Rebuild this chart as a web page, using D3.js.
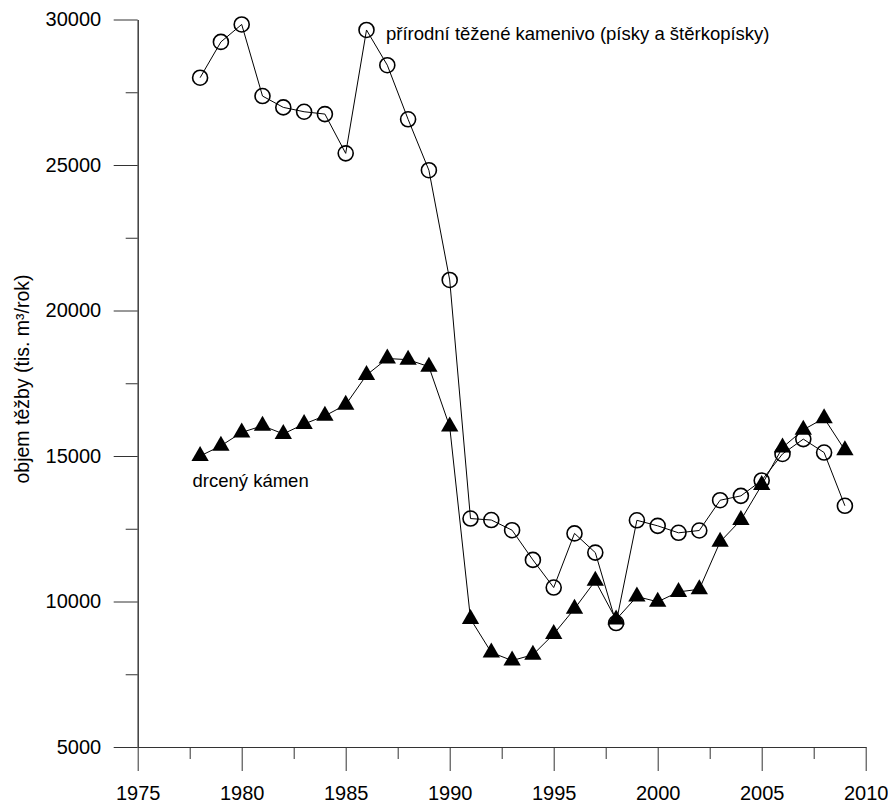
<!DOCTYPE html>
<html>
<head>
<meta charset="utf-8">
<script src="https://cdn.jsdelivr.net/npm/d3@7"></script>
<style>
  html, body { margin: 0; padding: 0; background: #fff; }
  svg { display: block; font-family: "Liberation Sans", Arial, sans-serif; }
</style>
</head>
<body>
<svg id="chart" width="888" height="805"></svg>
<script>
// Annual extraction volumes (thousand m3 per year)
const years = [1978, 1979, 1980, 1981, 1982, 1983, 1984, 1985, 1986, 1987, 1988,
               1989, 1990, 1991, 1992, 1993, 1994, 1995, 1996, 1997, 1998, 1999,
               2000, 2001, 2002, 2003, 2004, 2005, 2006, 2007, 2008, 2009];

// natural aggregate (sands and gravel sands)
const naturalAggregate = [28000, 29230, 29830, 27370, 26980, 26830, 26750, 25400,
                          29640, 28430, 26570, 24820, 21050, 12850, 12800, 12450,
                          11430, 10480, 12340, 11680, 9260, 12790, 12600, 12360,
                          12440, 13480, 13630, 14160, 15070, 15580, 15120, 13290];

// crushed stone
const crushedStone = [15000, 15350, 15810, 16040, 15760, 16100, 16380, 16760,
                      17780, 18350, 18310, 18070, 16010, 9400, 8250, 7970,
                      8170, 8880, 9750, 10710, 9380, 10170, 9990, 10330,
                      10420, 12050, 12800, 14000, 15290, 15900, 16300, 15200];

const xMajorTicks = [1975, 1980, 1985, 1990, 1995, 2000, 2005, 2010];
const xMinorTicks = [1977.5, 1982.5, 1987.5, 1992.5, 1997.5, 2002.5, 2007.5];
const yMajorTicks = [5000, 10000, 15000, 20000, 25000, 30000];
const yMinorTicks = [7500, 12500, 17500, 22500, 27500];

const yTitle = "objem těžby (tis. m³/rok)";
const naturalLabel = "přírodní těžené kamenivo (písky a štěrkopísky)";
const crushedLabel = "drcený kámen";

const svg = d3.select("#chart");

const x = d3.scaleLinear().domain([1975, 2010]).range([137.7, 865.7]);
const y = d3.scaleLinear().domain([5000, 30000]).range([747, 19.5]);

// Axes: major ticks with labels, minor ticks without
const axisColor = "#333";

function styleAxis(g) {
  g.attr("font-family", null).attr("font-size", null);
  g.selectAll("path.domain").attr("stroke", axisColor).attr("stroke-width", 1);
  g.selectAll(".tick line").attr("stroke", axisColor).attr("stroke-width", 1);
  g.selectAll(".tick text").attr("fill", "#000").attr("font-size", 20);
}

svg.append("g")
  .attr("transform", `translate(${x(1975)},0)`)
  .call(d3.axisLeft(y).tickValues(yMajorTicks).tickFormat(d3.format("d"))
        .tickSize(24).tickSizeOuter(0).tickPadding(12.5))
  .call(styleAxis);

svg.append("g")
  .attr("transform", `translate(${x(1975)},0)`)
  .call(d3.axisLeft(y).tickValues(yMinorTicks).tickFormat("")
        .tickSize(12).tickSizeOuter(0))
  .call(styleAxis);

svg.append("g")
  .attr("transform", `translate(0,${y(5000)})`)
  .call(d3.axisBottom(x).tickValues(xMajorTicks).tickFormat(d3.format("d"))
        .tickSize(24).tickSizeOuter(0).tickPadding(14.5))
  .call(styleAxis);

svg.append("g")
  .attr("transform", `translate(0,${y(5000)})`)
  .call(d3.axisBottom(x).tickValues(xMinorTicks).tickFormat("")
        .tickSize(12).tickSizeOuter(0))
  .call(styleAxis);

// Y axis title
svg.append("text")
  .attr("transform", "translate(29,379) rotate(-90)")
  .attr("text-anchor", "middle")
  .attr("font-size", 19.5)
  .attr("fill", "#000")
  .text(yTitle);

const line = d3.line()
  .x((d, i) => x(years[i]))
  .y(d => y(d));

// Natural aggregate series: thin line + open circles
svg.append("path")
  .datum(naturalAggregate)
  .attr("d", line)
  .attr("fill", "none")
  .attr("stroke", "#000")
  .attr("stroke-width", 1);

svg.append("g")
  .selectAll("circle")
  .data(naturalAggregate)
  .join("circle")
  .attr("cx", (d, i) => x(years[i]))
  .attr("cy", d => y(d))
  .attr("r", 7.5)
  .attr("fill", "none")
  .attr("stroke", "#000")
  .attr("stroke-width", 1.6);

// Crushed stone series: thin line + filled triangles
svg.append("path")
  .datum(crushedStone)
  .attr("d", line)
  .attr("fill", "none")
  .attr("stroke", "#000")
  .attr("stroke-width", 1);

const tri = d3.symbol(d3.symbolTriangle, 130);
svg.append("g")
  .selectAll("path")
  .data(crushedStone)
  .join("path")
  .attr("transform", (d, i) => `translate(${x(years[i])},${y(d)})`)
  .attr("d", tri)
  .attr("fill", "#000");

// Series labels
svg.append("text")
  .attr("x", 386)
  .attr("y", 39.5)
  .attr("font-size", 18.5)
  .attr("fill", "#000")
  .text(naturalLabel);

svg.append("text")
  .attr("x", 192.5)
  .attr("y", 487)
  .attr("font-size", 18.5)
  .attr("fill", "#000")
  .text(crushedLabel);
</script>
</body>
</html>
